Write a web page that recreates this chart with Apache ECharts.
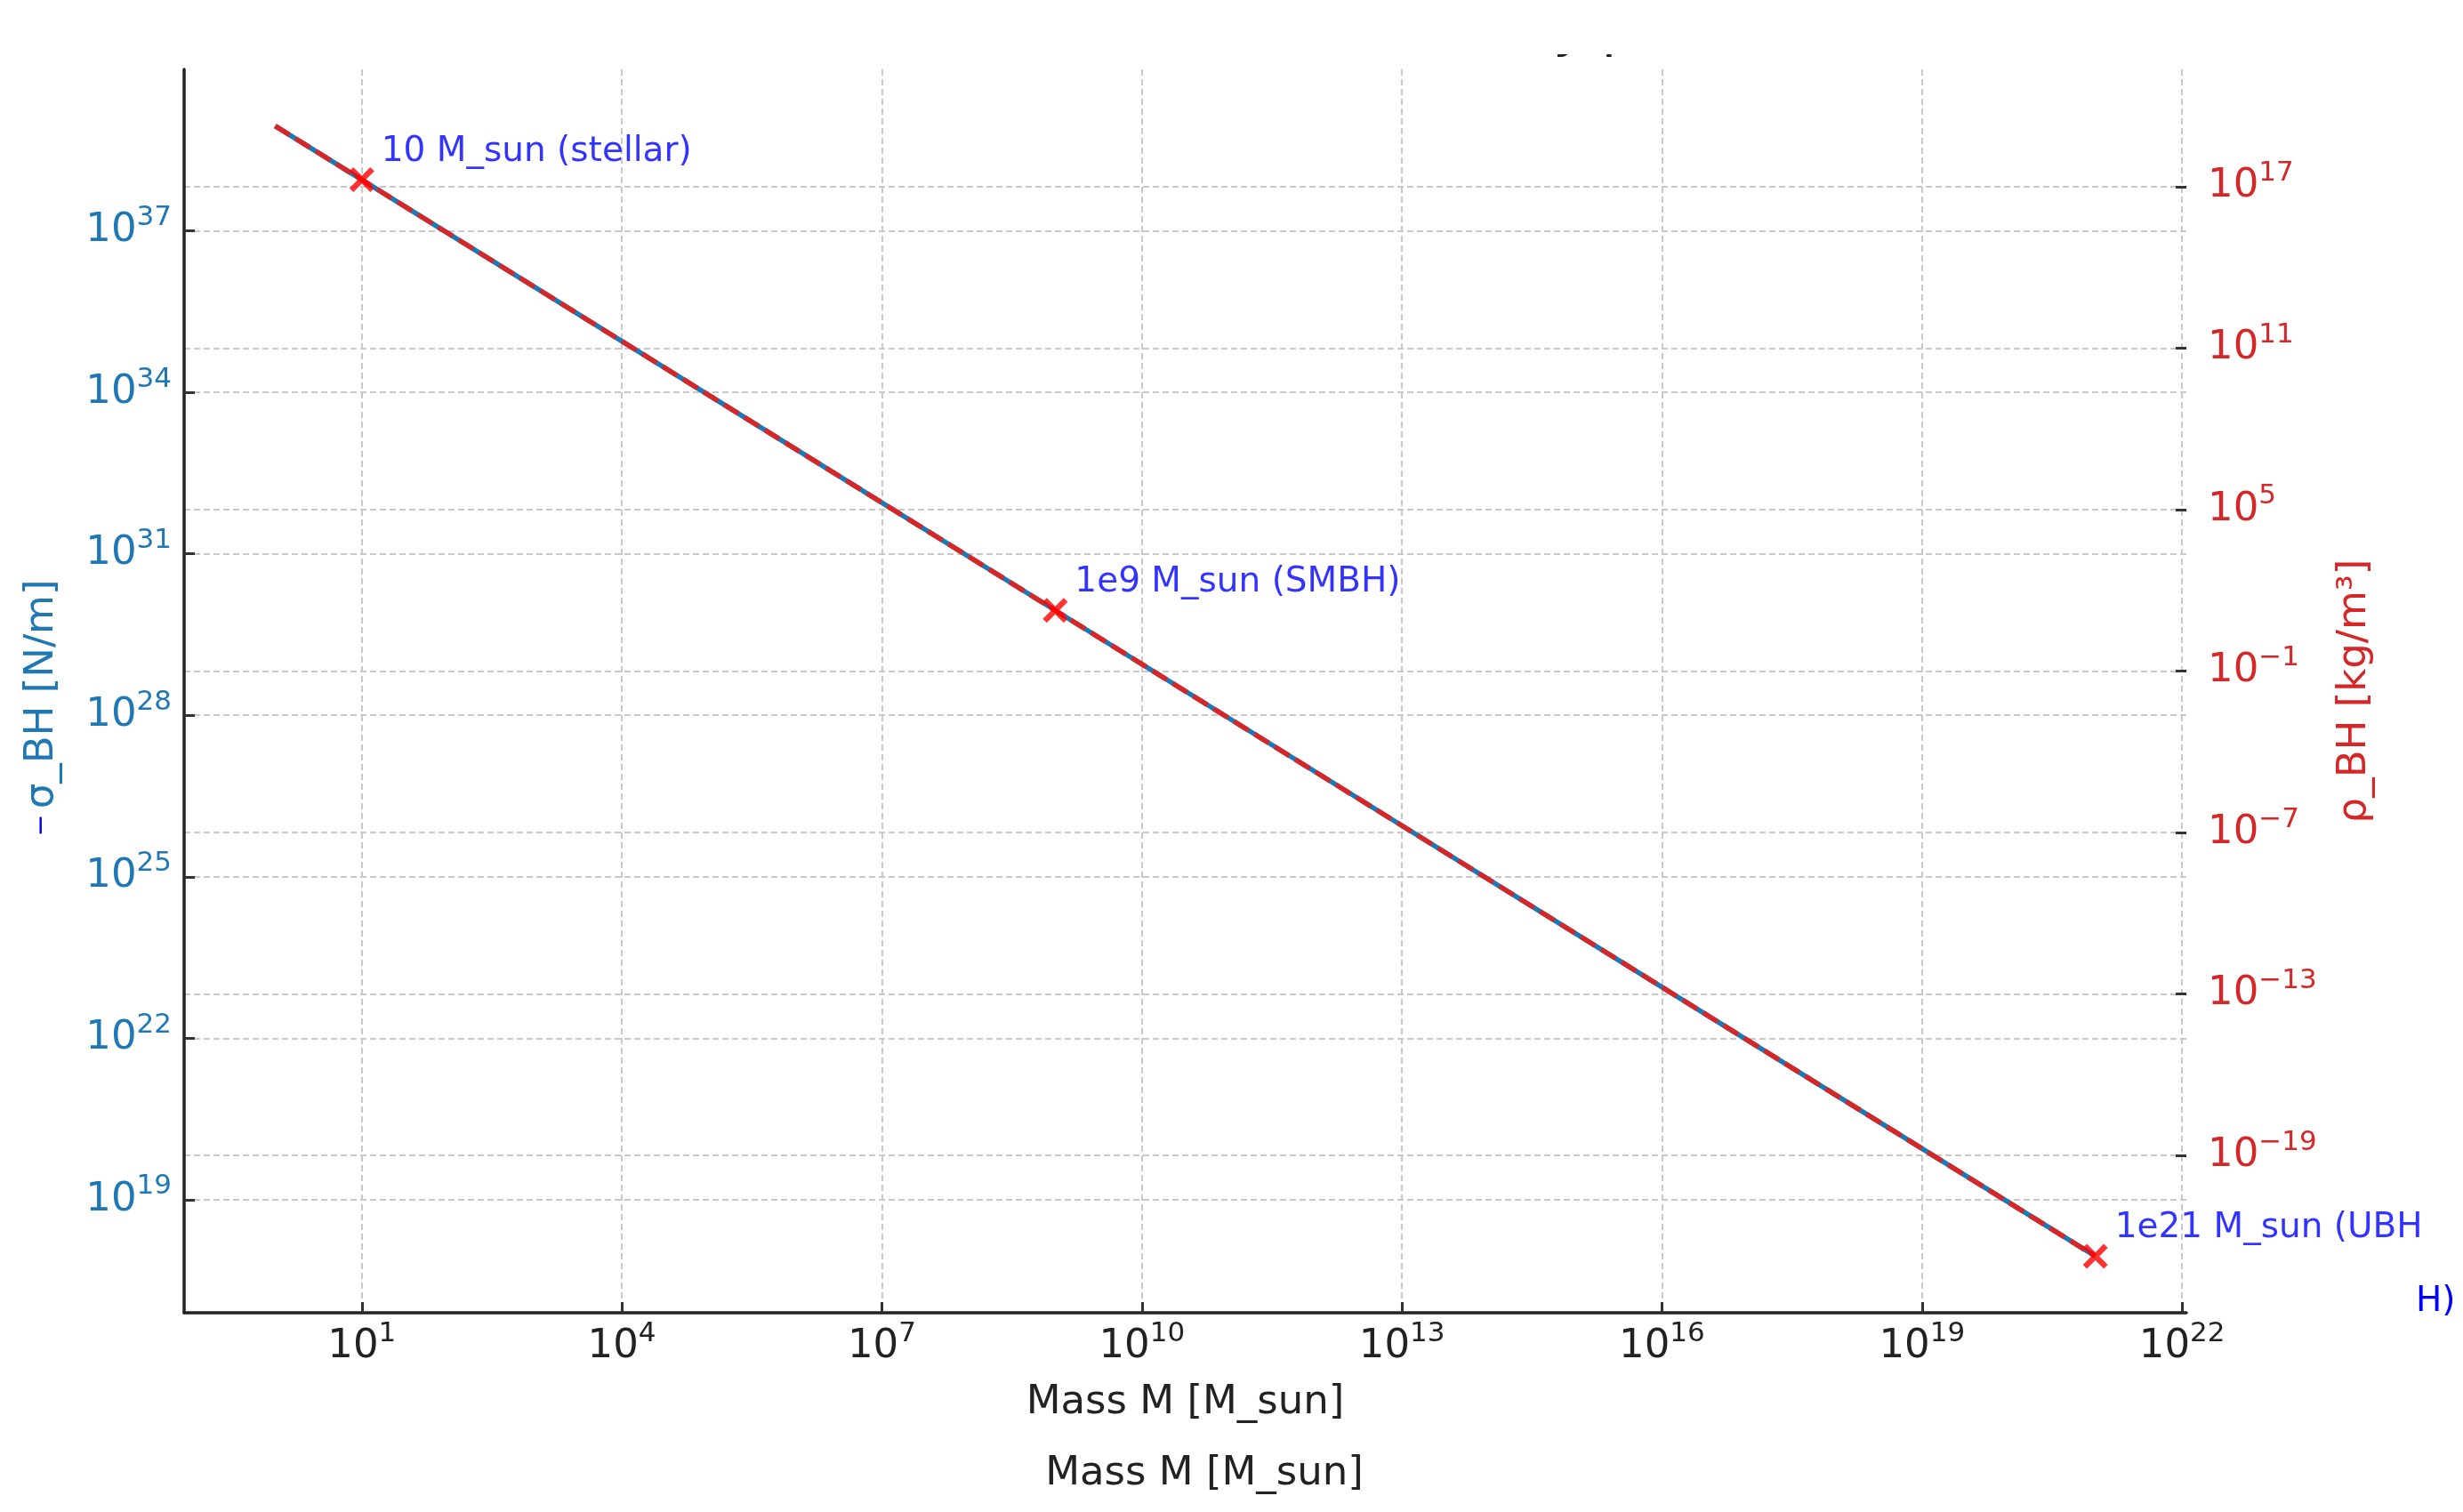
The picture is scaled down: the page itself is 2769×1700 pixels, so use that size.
<!DOCTYPE html>
<html>
<head>
<meta charset="utf-8">
<script src="https://cdn.jsdelivr.net/npm/echarts@6/dist/echarts.min.js"></script>
<style>
html, body { margin: 0; padding: 0; background: #fff; }
#chart { width: 2769px; height: 1700px; }
</style>
</head>
<body>
<div id="chart"></div>
<script>
// data (log-log straight lines)
const massValues = [1, 1e3, 1e6, 1e9, 1e12, 1e15, 1e18, 1e21];
const sigmaValues = [8.9e38, 8.9e35, 8.9e32, 8.9e29, 8.9e26, 8.9e23, 8.9e20, 8.9e17];
const rhoValues = [1.8e19, 1.8e13, 1.8e7, 1.8e1, 1.8e-5, 1.8e-11, 1.8e-17, 1.8e-23];

// highlighted black holes
const markerMass = [10, 1e9, 1e21];
const markerSigma = [8.9e37, 8.9e29, 8.9e17];
const markerNames = ['10 M_sun (stellar)', '1e9 M_sun (SMBH)', '1e21 M_sun (UBH'];

// tick exponents
const xTickExp = [1, 4, 7, 10, 13, 16, 19, 22];
const leftTickExp = [19, 22, 25, 28, 31, 34, 37];
const rightTickExp = [-19, -13, -7, -1, 5, 11, 17];

const FONT = 'DejaVu Sans';
const lg = v => Math.log10(v);

/* matplotlib style 5% margin on the log range */
function padRange(vals) {
    let logs = vals.map(lg);
    let lo = Math.min(...logs), hi = Math.max(...logs);
    let m = (hi - lo) * 0.05;
    return [lo - m, hi + m];
}
const xRange = padRange(massValues);
const yLeftRange = padRange(sigmaValues);
const yRightRange = padRange(rhoValues);

function powLabel(v) {
    let e = Math.round(v);
    let s = e < 0 ? '\u2212' + (-e) : String(e);
    return '{b|10}{s|' + s + '}';
}
function richFor(color) {
    return {
        b: { fontFamily: FONT, fontSize: 45, lineHeight: 60, color: color },
        s: { fontFamily: FONT, fontSize: 31, lineHeight: 31, verticalAlign: 'top', color: color }
    };
}
const gridLine = { show: true, lineStyle: { color: '#c8c8c8', width: 2, type: [7, 4] } };
const tickStyle = { show: true, inside: true, length: 12, lineStyle: { color: '#333', width: 3 } };
const spine = { show: true, onZero: false, lineStyle: { color: '#222', width: 3.5 } };

// thick "x" marker
const xSymbol = 'path://M0,1.6L1.6,0L5,3.4L8.4,0L10,1.6L6.6,5L10,8.4L8.4,10L5,6.6L1.6,10L0,8.4L3.4,5Z';

let myChart = echarts.init(document.getElementById('chart'));
let option = {
    animation: false,
    backgroundColor: '#fff',
    grid: { left: 207, right: 311, top: 78, bottom: 224, outerBoundsMode: 'none' },
    xAxis: [{
        type: 'value',
        min: xRange[0],
        max: xRange[1],
        axisLine: spine,
        axisTick: Object.assign({ customValues: xTickExp }, tickStyle),
        axisLabel: { customValues: xTickExp, margin: 8, formatter: powLabel, rich: richFor('#222') },
        splitLine: gridLine,
        name: 'Mass M [M_sun]',
        nameLocation: 'middle',
        nameGap: 79,
        nameTextStyle: { fontFamily: FONT, fontSize: 45, color: '#222' }
    }],
    yAxis: [{
        type: 'value',
        position: 'left',
        min: yLeftRange[0],
        max: yLeftRange[1],
        axisLine: spine,
        axisTick: Object.assign({ customValues: leftTickExp }, tickStyle),
        axisLabel: { customValues: leftTickExp, margin: 14, formatter: powLabel, rich: richFor('#1f77b4') },
        splitLine: gridLine,
        name: '{m|\u2212}{t|σ_BH [N/m]}',
        nameLocation: 'middle',
        nameGap: 137,
        nameTextStyle: {
            padding: [0, 38, 0, 0],
            rich: {
                m: { fontFamily: FONT, fontSize: 30, lineHeight: 45, color: '#0000ff', padding: [0, 6, 0, 0] },
                t: { fontFamily: FONT, fontSize: 45, lineHeight: 45, color: '#1f77b4' }
            }
        }
    }, {
        type: 'value',
        position: 'right',
        min: yRightRange[0],
        max: yRightRange[1],
        axisLine: { show: false, onZero: false },
        axisTick: Object.assign({ customValues: rightTickExp }, tickStyle),
        axisLabel: { customValues: rightTickExp, margin: 24, formatter: powLabel, rich: richFor('#d62728') },
        splitLine: gridLine,
        name: 'ρ_BH [kg/m³]',
        nameLocation: 'middle',
        nameGap: 167,
        nameTextStyle: { fontFamily: FONT, fontSize: 45, lineHeight: 45, color: '#d62728' }
    }],
    series: [{
        name: '-σ_BH',
        type: 'line',
        yAxisIndex: 0,
        symbol: 'none',
        z: 2,
        lineStyle: { color: '#1f77b4', width: 5.5 },
        data: massValues.map((m, i) => [lg(m), lg(sigmaValues[i])])
    }, {
        name: 'ρ_BH',
        type: 'line',
        yAxisIndex: 1,
        symbol: 'none',
        z: 3,
        lineStyle: { color: '#d62728', width: 5.5, type: [19, 8], cap: 'butt' },
        data: massValues.map((m, i) => [lg(m), lg(rhoValues[i])])
    }, {
        name: 'examples',
        type: 'scatter',
        yAxisIndex: 0,
        z: 4,
        symbol: xSymbol,
        symbolSize: 28,
        itemStyle: { color: '#ff0000' },
        label: {
            show: true,
            position: [36, -37],
            align: 'left',
            verticalAlign: 'top',
            fontFamily: FONT,
            fontSize: 39,
            lineHeight: 39,
            color: '#0000ff',
            formatter: p => markerNames[p.dataIndex]
        },
        data: markerMass.map((m, i) => [lg(m), lg(markerSigma[i])])
    }],
    graphic: [{
        type: 'text',
        x: 595,
        y: 5,
        z: 1,
        style: {
            text: 'Black Hole Surface Tension and Density per Mass',
            fontFamily: FONT, fontSize: 60, lineHeight: 60,
            fill: '#222', align: 'left', verticalAlign: 'top'
        }
    }, {
        // top of the figure is cut off in the original
        type: 'rect',
        z: 10,
        shape: { x: 0, y: 0, width: 2769, height: 61 },
        style: { fill: '#fff' }
    }, {
        type: 'text',
        x: 2716,
        y: 1444,
        z: 5,
        style: {
            text: 'H)', fontFamily: FONT, fontSize: 39, lineHeight: 39,
            fill: '#0000ff', align: 'left', verticalAlign: 'top'
        }
    }, {
        type: 'text',
        x: 1354,
        y: 1635,
        z: 5,
        style: {
            text: 'Mass M [M_sun]', fontFamily: FONT, fontSize: 45, lineHeight: 45,
            fill: '#222', align: 'center', verticalAlign: 'top'
        }
    }]
};
myChart.setOption(option);
</script>
</body>
</html>
